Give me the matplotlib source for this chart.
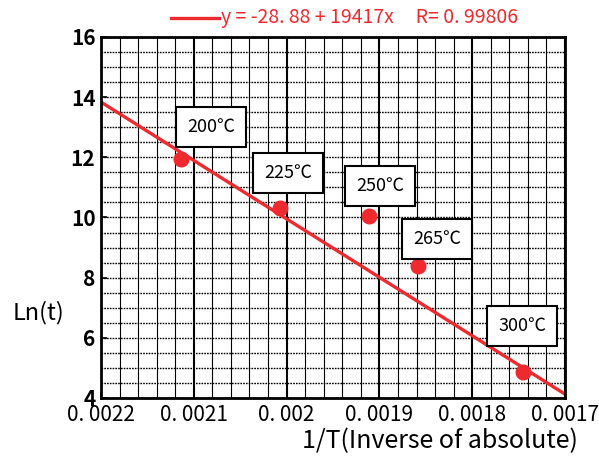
import matplotlib
matplotlib.use("Agg")
import matplotlib.pyplot as plt
import numpy as np

plt.rcParams['font.family'] = ['Noto Sans CJK JP', 'DejaVu Sans']

# data
temps_c = [200, 225, 250, 265, 300]
inv_T = [0.0021135, 0.0020074, 0.0019115, 0.0018582, 0.0017447]
ln_t = [11.95, 10.3, 10.05, 8.4, 4.85]
label_pos = [(0.0020815, 13.0), (0.0019985, 11.48), (0.0018994, 11.05), (0.001838, 9.28), (0.0017463, 6.39)]
fit_a, fit_b, fit_r = -28.88, 19417, 0.99806
xticks = [0.0022, 0.0021, 0.0020, 0.0019, 0.0018, 0.0017]
xticklabels = ["0. 0022", "0. 0021", "0. 002", "0. 0019", "0. 0018", "0. 0017"]
yticks = [4, 6, 8, 10, 12, 14, 16]

red = "#ee2a2f"

fig = plt.figure(figsize=(5.99, 4.59), dpi=100)
ax = fig.add_axes([0.1686, 0.1329, 0.7746, 0.7865])

# grid
for x in np.arange(0.0017, 0.00221, 0.00002):
    major = abs(round(x / 0.0001) * 0.0001 - x) < 1e-9
    ax.axvline(x, color="black", lw=1.5 if major else 0.8, zorder=1)
for y in np.arange(4, 16.01, 0.5):
    ax.axhline(y, color="black", lw=1.0, ls=(0, (1.2, 0.8)), zorder=1)

xx = np.array([0.0022, 0.0017])
ax.plot(xx, fit_a + fit_b * xx, color=red, lw=2.4, zorder=3)
ax.plot(inv_T, ln_t, "o", color=red, ms=10.5, zorder=4)

for t, (lx, ly) in zip(temps_c, label_pos):
    ax.text(lx, ly, f"{t}℃", fontsize=13, ha="center", va="center", zorder=5,
            bbox=dict(boxstyle="square,pad=0.6", fc="white", ec="black", lw=1.5))

ax.set_xlim(0.0022, 0.0017)
ax.set_ylim(4, 16)
ax.set_xticks(xticks)
ax.set_xticklabels(xticklabels, fontsize=15)
ax.set_yticks(yticks)
ax.set_yticklabels([str(v) for v in yticks], fontsize=15, fontweight="bold")
ax.tick_params(direction="in", length=4, width=1.2, pad=4)
for s in ax.spines.values():
    s.set_linewidth(2)
    s.set_zorder(6)

fig.text(0.065, 0.32, "Ln(t)", fontsize=17, ha="center", va="center")
fig.text(0.965, 0.04, "1/T(Inverse of absolute)", fontsize=18, ha="right", va="center")

# legend line + text
fig.lines.append(plt.Line2D([0.285, 0.365], [0.961, 0.961], color=red, lw=2.4,
                            transform=fig.transFigure))
fig.text(0.369, 0.961, f"y = {fit_a:.2f} + {fit_b}x     R= {fit_r}".replace(".", ". "),
         color=red, fontsize=14, ha="left", va="center")

plt.savefig("out.png", dpi=100)
